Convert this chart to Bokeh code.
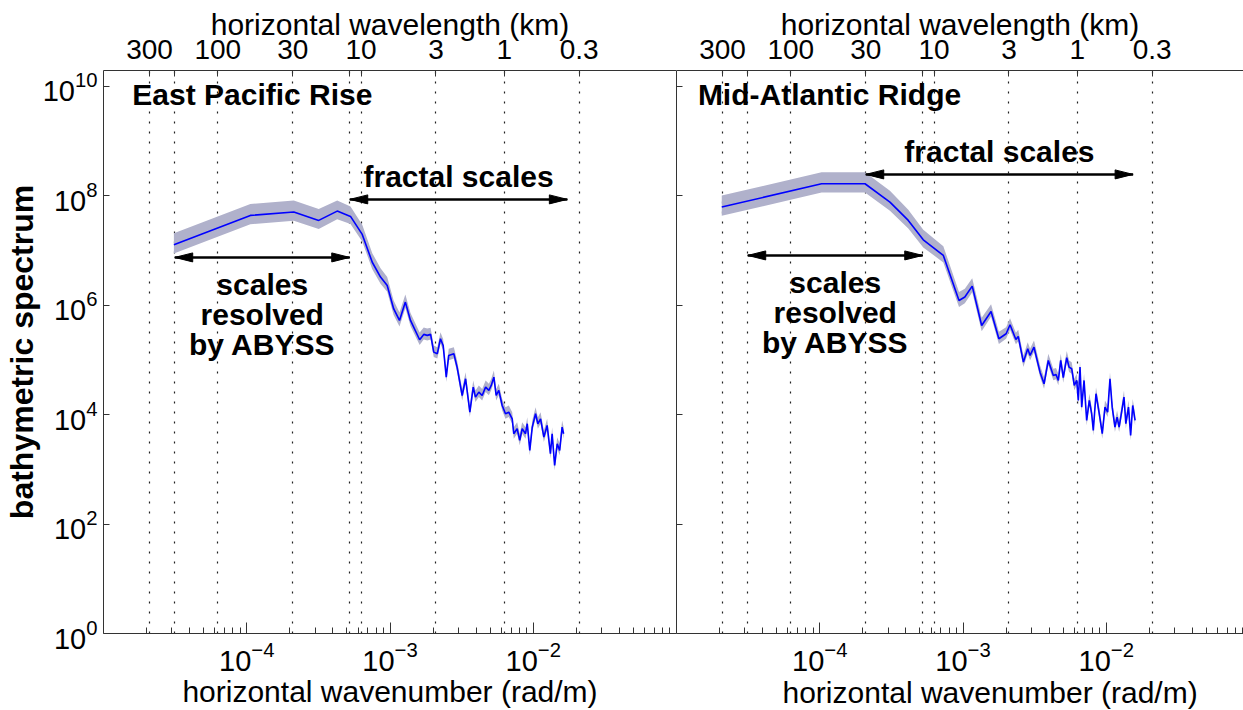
import numpy as np
from bokeh.plotting import figure
from bokeh.layouts import row
from bokeh.models import (LogAxis, FixedTicker, CustomJSTickFormatter,
                          Range1d, Title)
from bokeh.embed import file_html
from bokeh.resources import INLINE
from bokeh.core.properties import value

# ---------------- data ----------------
# East Pacific Rise: wavenumber (rad/m) and bathymetric spectrum
epr_k = [3.10e-5, 1.06e-4, 2.13e-4, 3.18e-4, 4.28e-4, 5.30e-4, 6.40e-4, 7.52e-4, 8.59e-4, 9.56e-4,
         1.06e-3, 1.165e-3, 1.28e-3, 1.39e-3, 1.61e-3, 1.72e-3, 1.82e-3, 1.92e-3, 2.02e-3, 2.14e-3,
         2.25e-3, 2.35e-3, 2.47e-3, 2.57e-3, 2.79e-3, 2.94e-3, 3.19e-3, 3.37e-3, 3.61e-3, 3.81e-3,
         3.95e-3, 4.17e-3, 4.40e-3, 4.65e-3, 4.90e-3, 5.09e-3, 5.31e-3, 5.51e-3, 5.75e-3, 6.07e-3,
         6.40e-3, 6.75e-3, 7.13e-3, 7.31e-3, 7.72e-3, 8.05e-3, 8.37e-3, 8.83e-3, 9.08e-3, 9.46e-3,
         9.84e-3, 1.038e-2, 1.077e-2, 1.125e-2, 1.186e-2, 1.25e-2, 1.318e-2, 1.355e-2, 1.41e-2, 1.47e-2,
         1.53e-2, 1.59e-2, 1.63e-2]
epr_s = [1.28e7, 4.38e7, 5.04e7, 3.55e7, 5.25e7, 4.20e7, 1.97e7, 6.1e6, 3.27e6, 2.30e6,
         8.63e5, 5.27e5, 1.14e6, 5.27e5, 2.34e5, 2.93e5, 2.81e5, 2.93e5, 1.39e5, 1.30e5,
         2.44e5, 1.84e5, 4.85e4, 1.21e5, 1.30e5, 7.4e4, 2.24e4, 4.53e4, 1.11e4, 3.18e4,
         2.09e4, 2.58e4, 2.24e4, 3.18e4, 2.77e4, 3.42e4, 4.85e4, 2.24e4, 2.77e4, 1.47e4,
         1.04e4, 1.11e4, 8.4e3, 4.48e3, 5.52e3, 3.38e3, 5.52e3, 4.48e3, 6.82e3, 2.22e3,
         5.91e3, 1.04e4, 6.82e3, 8.4e3, 3.88e3, 6.35e3, 1.93e3, 4.48e3, 1.18e3, 2.94e3,
         2.22e3, 5.91e3, 4.48e3]

# Mid-Atlantic Ridge
mar_k = [2.07e-5, 1.03e-4, 2.07e-4, 3.09e-4, 4.15e-4, 5.28e-4, 7.29e-4, 9.38e-4, 1.03e-3, 1.16e-3,
         1.35e-3, 1.57e-3, 1.78e-3, 2.00e-3, 2.13e-3, 2.34e-3, 2.43e-3, 2.64e-3, 2.83e-3, 2.94e-3,
         3.13e-3, 3.45e-3, 3.68e-3, 3.94e-3, 4.27e-3, 4.46e-3, 4.63e-3, 4.81e-3, 5.01e-3, 5.30e-3,
         5.50e-3, 5.74e-3, 5.98e-3, 6.22e-3, 6.38e-3, 6.56e-3, 6.74e-3, 7.0e-3, 7.3e-3, 7.62e-3,
         7.91e-3, 8.12e-3, 8.48e-3, 8.9e-3, 9.38e-3, 9.8e-3, 1.023e-2, 1.062e-2, 1.10e-2, 1.15e-2,
         1.19e-2, 1.23e-2, 1.28e-2, 1.33e-2, 1.37e-2, 1.43e-2, 1.48e-2, 1.53e-2, 1.59e-2]
mar_s = [6.22e7, 1.66e8, 1.66e8, 7.67e7, 3.55e7, 1.57e7, 8.13e6, 1.22e6, 1.41e6, 2.23e6,
         4.27e5, 7.7e5, 2.44e5, 3.01e5, 4.40e5, 2.37e5, 2.69e5, 9.12e4, 1.60e5, 1.21e5,
         1.71e5, 5.98e4, 3.67e4, 9.8e4, 5.21e4, 5.43e4, 4.22e4, 9.8e4, 4.73e4, 1.10e5,
         7.4e4, 6.9e4, 3.42e4, 4.22e4, 1.82e4, 7.4e4, 1.37e4, 4.22e4, 7.83e3, 1.82e4,
         1.04e4, 5.14e3, 2.41e4, 1.11e4, 4.48e3, 1.37e4, 1.11e4, 4.53e4, 1.37e4, 5.91e3,
         9.0e3, 5.91e3, 1.11e4, 2.09e4, 6.82e3, 1.37e4, 4.17e3, 1.47e4, 7.83e3]

# uncertainty band half widths (decades) at two anchor wavenumbers
band_k_anchor = [3e-4, 2e-3]
band_up_dex = [0.21, 0.12]
band_dn_dex = [0.16, 0.09]

# wavelength axis (km)
wl_labelled_km = [300, 100, 30, 10, 3, 1, 0.3]
wl_unlabelled_km = [200, 12]
wl_lines_km = [300, 200, 100, 30, 12, 10, 3, 1, 0.3]

panel_titles = ["East Pacific Rise", "Mid-Atlantic Ridge"]
abyss_range_km = [200, 12]                  # "scales resolved by ABYSS"
abyss_arrow_s = [7.48e6, 8.13e6]
fractal_arrow_k = [(2 * np.pi / 12000, 1.73e-2), (2 * np.pi / 30000, 1.54e-2)]
fractal_arrow_s = [8.6e7, 2.46e8]
title_k = [1.59e-5, 1.41e-5]
title_s = 4.5e9
abyss_lines = ["scales", "resolved", "by ABYSS"]

y_ticks = [1e0, 1e2, 1e4, 1e6, 1e8, 1e10]
x_ticks = [1e-4, 1e-3, 1e-2]
x_minor = [m * 10.0 ** e for e in (-5, -4, -3, -2) for m in range(2, 10)]

# ---------------- styling ----------------
FONT = "Liberation Sans"
AX_COL = "#333333"
PXDEC_X = 143.25
PXDEC_Y = 54.7
H = 710
BASE_FIX = -11   # alphabetic baseline correction for text glyphs (px)


def km_to_k(km):
    return [2 * np.pi / (v * 1000.0) for v in km]


def draw_arrow(p, x0, x1, y):
    p.segment(x0=[x0], y0=[y], x1=[x1], y1=[y], line_color="black", line_width=2.5)
    L = 10 ** (18 / PXDEC_X)
    W = 10 ** (4.5 / PXDEC_Y)
    p.patches(xs=[[x0, x0 * L, x0 * L], [x1, x1 / L, x1 / L]],
              ys=[[y, y * W, y / W], [y, y * W, y / W]],
              fill_color="black", line_color="black", line_width=1)


def make_panel(idx, k, s, width, x_end, first):
    p = figure(width=width, height=H, x_axis_type="log", y_axis_type="log",
               x_range=Range1d(1e-5, x_end), y_range=Range1d(1.0, 1.95e10),
               output_backend="svg", toolbar_location=None,
               min_border_left=103 if first else 0, min_border_right=0,
               min_border_top=70, min_border_bottom=77)
    p.outline_line_color = None
    p.background_fill_color = "white"
    p.border_fill_color = "white"

    # dotted wavelength grid
    p.ygrid.visible = False
    p.xgrid.ticker = FixedTicker(ticks=km_to_k(wl_lines_km))
    p.xgrid.grid_line_color = "#222222"
    p.xgrid.grid_line_dash = "2 8"
    p.xgrid.grid_line_width = 1.2

    # band + line
    lk = np.log10(k)
    la = np.log10(band_k_anchor)
    up = np.interp(lk, la, band_up_dex)
    dn = np.interp(lk, la, band_dn_dex)
    s_arr = np.asarray(s)
    p.varea(x=k, y1=s_arr / 10 ** dn, y2=s_arr * 10 ** up, fill_color="#b0b1cb")
    p.line(k, s, line_color="#0000ff", line_width=1.6)

    # bottom axis
    xa = p.xaxis[0]
    xa.ticker = FixedTicker(ticks=x_ticks, minor_ticks=x_minor)
    xa.major_tick_in = 11
    xa.major_tick_out = 0
    xa.minor_tick_in = 6
    xa.minor_tick_out = 0
    xa.axis_line_color = AX_COL
    xa.major_tick_line_color = AX_COL
    xa.minor_tick_line_color = AX_COL
    xa.major_label_text_font = FONT
    xa.major_label_text_font_size = "29px"
    xa.major_label_text_color = "black"
    xa.major_label_standoff = 7
    if first:
        xa.axis_label = "horizontal wavenumber (rad/m)"
        xa.axis_label_text_font = FONT
        xa.axis_label_text_font_size = "30px"
        xa.axis_label_text_font_style = "normal"
        xa.axis_label_standoff = 1
        xa.axis_label_text_color = "black"
    else:
        p.add_layout(Title(text="horizontal wavenumber (rad/m)", align="left", offset=106,
                           text_font=FONT, text_font_size="30px", text_font_style="normal",
                           text_color="black", standoff=1), "below")

    # top axis: wavelength
    top = LogAxis(ticker=FixedTicker(ticks=km_to_k(wl_labelled_km),
                                     minor_ticks=km_to_k(wl_unlabelled_km)),
                  formatter=CustomJSTickFormatter(code="""
                      const km = 2*Math.PI/tick/1000;
                      return km >= 0.95 ? km.toFixed(0) : km.toFixed(1);
                  """),
                  axis_label="horizontal wavelength (km)")
    top.major_tick_in = 6
    top.major_tick_out = 0
    top.minor_tick_in = 6
    top.minor_tick_out = 0
    top.axis_line_color = AX_COL
    top.major_tick_line_color = AX_COL
    top.minor_tick_line_color = AX_COL
    top.major_label_text_font = FONT
    top.major_label_text_font_size = "28px"
    top.major_label_text_color = "black"
    top.major_label_standoff = 12
    top.axis_label_text_font = FONT
    top.axis_label_text_font_size = "30px"
    top.axis_label_text_font_style = "normal"
    top.axis_label_text_color = "black"
    top.axis_label_standoff = -4
    p.add_layout(top, "above")

    # y axis
    ya = p.yaxis[0]
    ya.ticker = FixedTicker(ticks=y_ticks, minor_ticks=[])
    ya.major_tick_in = 6
    ya.major_tick_out = 0
    ya.minor_tick_in = 0
    ya.minor_tick_out = 0
    ya.axis_line_color = AX_COL
    ya.major_tick_line_color = AX_COL
    if first:
        ya.major_label_text_font = FONT
        ya.major_label_text_font_size = "29px"
        ya.major_label_text_color = "black"
        ya.major_label_standoff = 6
        ya.axis_label = "bathymetric spectrum"
        ya.axis_label_text_font = FONT
        ya.axis_label_text_font_size = "32px"
        ya.axis_label_text_font_style = "bold"
        ya.axis_label_text_color = "black"
        ya.axis_label_standoff = 0
    else:
        ya.formatter = CustomJSTickFormatter(code="return '';")
        ya.major_label_standoff = 0

    # annotations
    fx0, fx1 = fractal_arrow_k[idx]
    ak0, ak1 = km_to_k(abyss_range_km)
    draw_arrow(p, fx0, fx1, fractal_arrow_s[idx])
    draw_arrow(p, ak0, ak1, abyss_arrow_s[idx])

    p.text(x=[title_k[idx]], y=[title_s], text=[panel_titles[idx]], y_offset=BASE_FIX,
           text_font=value(FONT), text_font_style="bold", text_font_size="30px",
           text_align="left", text_baseline="alphabetic", text_color="black")
    p.text(x=[np.sqrt(fx0 * fx1)], y=[fractal_arrow_s[idx]], text=["fractal scales"],
           y_offset=-12 + BASE_FIX,
           text_font=value(FONT), text_font_style="bold", text_font_size="30px",
           text_align="center", text_baseline="alphabetic", text_color="black")
    xc = np.sqrt(ak0 * ak1)
    p.text(x=[xc] * 3, y=[abyss_arrow_s[idx]] * 3, text=abyss_lines,
           y_offset=[38 + BASE_FIX, 68 + BASE_FIX, 98 + BASE_FIX],
           text_font=value(FONT), text_font_style="bold", text_font_size="30px",
           text_align="center", text_baseline="alphabetic", text_color="black")
    return p


W1 = 676
W2 = 1243 - W1
p1 = make_panel(0, epr_k, epr_s, W1, 1e-1, True)
p2 = make_panel(1, mar_k, mar_s, W2, 10 ** (-5 + W2 / PXDEC_X), False)

layout = row(p1, p2)
open("out.html", "w").write(file_html(layout, INLINE))
